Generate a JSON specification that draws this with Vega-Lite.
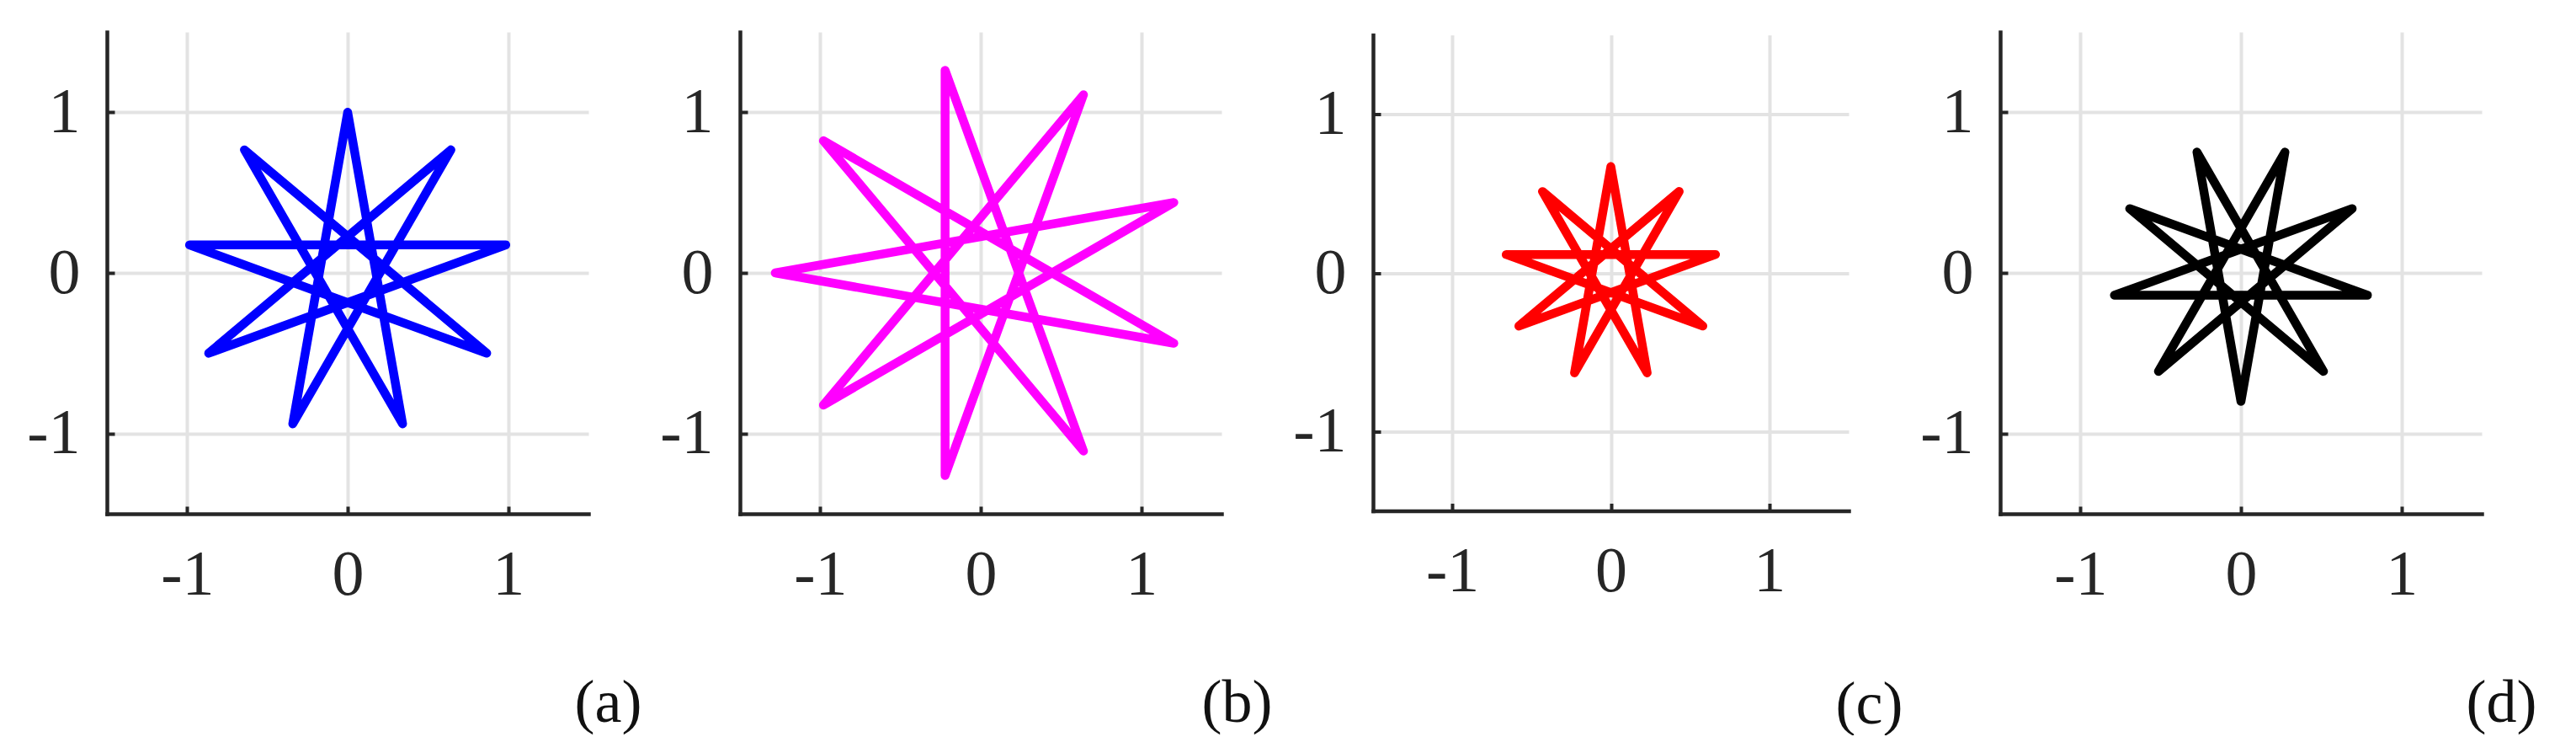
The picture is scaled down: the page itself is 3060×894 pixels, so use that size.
{
  "$schema": "https://vega.github.io/schema/vega-lite/v6.json",
  "padding": {"left": 31, "top": 38, "right": 0, "bottom": 0},
  "autosize": {"type": "pad"},
  "bounds": "flush",
  "spacing": 180,
  "center": true,
  "background": "white",
  "config": {
    "view": {"stroke": null},
    "axis": {
      "domainColor": "#262626",
      "domainWidth": 4.5,
      "domainCap": "square",
      "gridColor": "#e3e3e3",
      "gridWidth": 4,
      "tickColor": "#262626",
      "tickWidth": 4,
      "tickSize": -9,
      "labelFont": "Liberation Serif",
      "labelFontSize": 76,
      "labelColor": "#262626",
      "labelExpr": "replace(datum.label, '\u2212', '-')",
      "titleFont": "Liberation Serif",
      "titleFontSize": 72,
      "titleFontWeight": "normal",
      "titleColor": "#111111"
    },
    "axisX": {"labelBaseline": "alphabetic", "labelPadding": 104, "titleAlign": "center", "titleBaseline": "alphabetic"},
    "axisY": {"labelPadding": 41}
  },
  "datasets": {
    "a": [
      {"k": 0, "x": 0, "y": 1},
      {"k": 1, "x": -0.342, "y": -0.94},
      {"k": 2, "x": 0.643, "y": 0.766},
      {"k": 3, "x": -0.866, "y": -0.5},
      {"k": 4, "x": 0.985, "y": 0.174},
      {"k": 5, "x": -0.985, "y": 0.174},
      {"k": 6, "x": 0.866, "y": -0.5},
      {"k": 7, "x": -0.643, "y": 0.766},
      {"k": 8, "x": 0.342, "y": -0.94},
      {"k": 9, "x": 0, "y": 1}
    ],
    "b": [
      {"k": 0, "x": -1.28, "y": 0},
      {"k": 1, "x": 1.203, "y": -0.438},
      {"k": 2, "x": -0.98, "y": 0.823},
      {"k": 3, "x": 0.64, "y": -1.109},
      {"k": 4, "x": -0.222, "y": 1.261},
      {"k": 5, "x": -0.222, "y": -1.261},
      {"k": 6, "x": 0.64, "y": 1.109},
      {"k": 7, "x": -0.98, "y": -0.823},
      {"k": 8, "x": 1.203, "y": 0.438},
      {"k": 9, "x": -1.28, "y": 0}
    ],
    "c": [
      {"k": 0, "x": 0, "y": 0.67},
      {"k": 1, "x": -0.229, "y": -0.63},
      {"k": 2, "x": 0.431, "y": 0.513},
      {"k": 3, "x": -0.58, "y": -0.335},
      {"k": 4, "x": 0.66, "y": 0.116},
      {"k": 5, "x": -0.66, "y": 0.116},
      {"k": 6, "x": 0.58, "y": -0.335},
      {"k": 7, "x": -0.431, "y": 0.513},
      {"k": 8, "x": 0.229, "y": -0.63},
      {"k": 9, "x": 0, "y": 0.67}
    ],
    "d": [
      {"k": 0, "x": 0, "y": -0.8},
      {"k": 1, "x": 0.274, "y": 0.752},
      {"k": 2, "x": -0.514, "y": -0.613},
      {"k": 3, "x": 0.693, "y": 0.4},
      {"k": 4, "x": -0.788, "y": -0.139},
      {"k": 5, "x": 0.788, "y": -0.139},
      {"k": 6, "x": -0.693, "y": 0.4},
      {"k": 7, "x": 0.514, "y": -0.613},
      {"k": 8, "x": -0.274, "y": 0.752},
      {"k": 9, "x": 0, "y": -0.8}
    ]
  },
  "hconcat": [
    {
      "width": 572, "height": 572,
      "data": {"name": "a"},
      "mark": {"type": "line", "color": "#0000ff", "strokeWidth": 10.5, "strokeCap": "round", "strokeJoin": "round"},
      "encoding": {
        "x": {"field": "x", "type": "quantitative", "scale": {"domain": [-1.5, 1.5], "nice": false, "zero": false}, "axis": {"values": [-1, 0, 1], "title": "(a)", "titleX": 595, "titleY": 246}},
        "y": {"field": "y", "type": "quantitative", "scale": {"domain": [-1.5, 1.5], "nice": false, "zero": false}, "axis": {"values": [-1, 0, 1], "title": null}},
        "order": {"field": "k", "type": "quantitative"}
      }
    },
    {
      "width": 572, "height": 572,
      "data": {"name": "b"},
      "mark": {"type": "line", "color": "#ff00ff", "strokeWidth": 10.5, "strokeCap": "round", "strokeJoin": "round"},
      "encoding": {
        "x": {"field": "x", "type": "quantitative", "scale": {"domain": [-1.5, 1.5], "nice": false, "zero": false}, "axis": {"values": [-1, 0, 1], "title": "(b)", "titleX": 590, "titleY": 246}},
        "y": {"field": "y", "type": "quantitative", "scale": {"domain": [-1.5, 1.5], "nice": false, "zero": false}, "axis": {"values": [-1, 0, 1], "title": null}},
        "order": {"field": "k", "type": "quantitative"}
      }
    },
    {
      "width": 565, "height": 565,
      "data": {"name": "c"},
      "mark": {"type": "line", "color": "#ff0000", "strokeWidth": 10.5, "strokeCap": "round", "strokeJoin": "round"},
      "encoding": {
        "x": {"field": "x", "type": "quantitative", "scale": {"domain": [-1.5, 1.5], "nice": false, "zero": false}, "axis": {"values": [-1, 0, 1], "title": "(c)", "titleX": 589, "titleY": 252}},
        "y": {"field": "y", "type": "quantitative", "scale": {"domain": [-1.5, 1.5], "nice": false, "zero": false}, "axis": {"values": [-1, 0, 1], "title": null}},
        "order": {"field": "k", "type": "quantitative"}
      }
    },
    {
      "width": 572, "height": 572,
      "data": {"name": "d"},
      "mark": {"type": "line", "color": "#000000", "strokeWidth": 10.5, "strokeCap": "round", "strokeJoin": "round"},
      "encoding": {
        "x": {"field": "x", "type": "quantitative", "scale": {"domain": [-1.5, 1.5], "nice": false, "zero": false}, "axis": {"values": [-1, 0, 1], "title": "(d)", "titleX": 595, "titleY": 246}},
        "y": {"field": "y", "type": "quantitative", "scale": {"domain": [-1.5, 1.5], "nice": false, "zero": false}, "axis": {"values": [-1, 0, 1], "title": null}},
        "order": {"field": "k", "type": "quantitative"}
      }
    }
  ]
}
